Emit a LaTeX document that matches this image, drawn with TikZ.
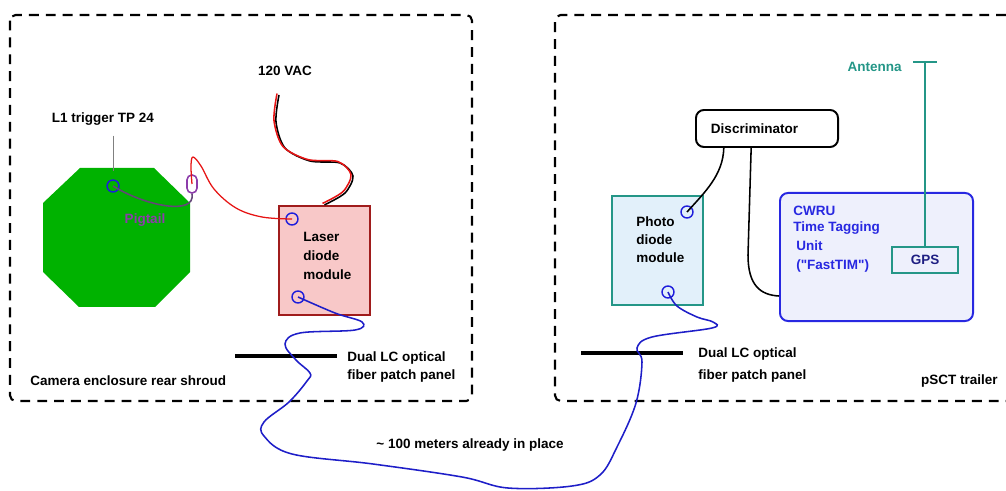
\documentclass[tikz,border=0pt]{standalone}
\usepackage{fontspec}
\setmainfont{Liberation Sans}[Ligatures=TeXOff]
\usetikzlibrary{positioning, calc}

\definecolor{boardgreen}{RGB}{0,178,0}
\definecolor{laserred}{RGB}{160,28,28}
\definecolor{laserpink}{RGB}{248,200,200}
\definecolor{pdteal}{RGB}{36,150,135}
\definecolor{pdblue}{RGB}{226,240,250}
\definecolor{cwrublue}{RGB}{40,40,225}
\definecolor{cwrufill}{RGB}{238,240,252}
\definecolor{gpsnavy}{RGB}{30,30,130}
\definecolor{portblue}{RGB}{30,30,220}
\definecolor{fiberblue}{RGB}{30,30,200}
\definecolor{pigpurple}{RGB}{140,60,170}
\definecolor{pigwire}{RGB}{100,70,120}
\definecolor{wirered}{RGB}{230,20,20}

\begin{document}
\begin{tikzpicture}[
  x=0.025cm, y=-0.025cm,
  every node/.append style = {font=\bfseries\fontsize{9.6}{13.5}\selectfont},
  txt/.style = {inner sep=0pt, align=left},
  enclosure/.style = {line width=1.5pt, dash pattern=on 7pt off 5pt, rounded corners=4pt},
  module/.style = {draw, line width=1.6pt, minimum width=2.275cm, minimum height=2.725cm},
  port/.style = {circle, draw=portblue, line width=1pt, minimum size=0.3cm, inner sep=0pt},
  fiber/.style = {draw=fiberblue, line width=1.1pt},
  wire/.style = {line width=1.1pt},
  panel/.style = {fill=black, minimum width=2.55cm, minimum height=0.1cm, inner sep=0pt},
  roundbox/.style = {draw, rounded corners=0.2cm, line width=1.4pt}
]
  \useasboundingbox (0,0) rectangle (1006,491);

  % Enclosures
  \draw[enclosure] (10,15) rectangle (472,401);
  \draw[enclosure] (1006,15) -- (555,15) -- (555,401) -- (1006,401);

  % Camera board
  \fill[boardgreen] (80,168) -- (154,168) -- (190,203) -- (190,272) -- (155,307)
    -- (79,307) -- (43,272) -- (43,203) -- cycle;
  \node[port] (tp24) at (113,186) {};
  \node[txt] (l1) at (103,119) {L1 trigger TP 24};
  \draw[gray, line width=0.5pt, shorten <=0.25cm, shorten >=0.2cm] (tp24 |- l1.south) -- (tp24);
  \node[txt, text=pigpurple] (pigtext) at (145,220) {Pigtail};

  % Laser diode module
  \node[module, draw=laserred, fill=laserpink] (laser) at (324.5,260.5) {};
  \node[txt, anchor=north west] (lasertext) at (303,232) {Laser\\diode\\module};
  \node[port] (lin) at (292,219) {};
  \node[port] (lout) at (298,297) {};

  % Pigtail
  \node[draw=pigpurple, line width=1.1pt, rounded corners=0.12cm, minimum width=0.25cm,
        minimum height=0.45cm, inner sep=0pt] (clip) at (192,184) {};
  \draw[pigwire, wire] (tp24.center) .. controls (145,206) and (196,216) .. (clip.south);
  \draw[wirered, line width=0.9pt] plot[smooth, tension=0.6] coordinates {(clip.center) (191,166)
    (193,157) (201,166) (214,189) (236,208) (262,217) (lin.center)};

  % Mains cable
  \coordinate (plug) at (279,95);
  \node[txt] (vac) at (285,71) {120 VAC};
  \draw[black, wire] plot[smooth] coordinates {(plug) (276,122) (285,148) (310,161)
    (340,163) (353,176) (345,193) (laser.north)};
  \draw[wirered, wire, transform canvas={shift={(-0.05cm,0.035cm)}}] plot[smooth] coordinates {(plug)
    (276,122) (285,148) (310,161) (340,163) (353,176) (345,193) (laser.north)};

  % Camera patch panel
  \node[panel] (panelL) at (286,356) {};
  \node[txt, anchor=north west] (panelLtext) at (347,351) {Dual LC optical\\[-0.7pt]fiber patch panel};
  \node[txt, anchor=west] (camtext) at (30,381) {Camera enclosure rear shroud};

  % Trailer side
  \node[roundbox, text width=2.8cm, inner xsep=0.375cm, minimum height=0.925cm] (disc)
    at (767,128.5) {Discriminator};
  \node[module, draw=pdteal, fill=pdblue] (pd) at (657.5,250.5) {};
  \node[txt, anchor=north west] (pdtext) at (636,216) {Photo\\[-0.7pt]diode\\[-0.7pt]module};
  \node[port] (pdin) at (687,212) {};
  \node[port] (pdout) at (668,292) {};

  \node[roundbox, draw=cwrublue, fill=cwrufill, minimum width=4.825cm, minimum height=3.2cm]
    (cwru) at (876.5,257) {};
  \node[txt, text=cwrublue, anchor=north west] (cwrutext) at (793,206)
    {CWRU\\[-2.2pt]Time Tagging\\\hspace{0.075cm}Unit\\\hspace{0.075cm}("FastTIM")};

  \coordinate (ant) at (925,62);
  \node[draw=pdteal, fill=cwrufill, line width=1.4pt, minimum width=1.65cm, minimum height=0.65cm,
        text=gpsnavy] (gps) at (925,260) {GPS};
  \draw[pdteal, line width=1.1pt] (ant) -- (gps.north);
  \draw[pdteal, line width=1.1pt] ($(ant)+(-12,0)$) -- ($(ant)+(12,0)$);
  \node[txt, text=pdteal, anchor=east] (anttext) at (902,67) {Antenna};

  \draw[wire] ($(disc.south west)!0.2!(disc.south east)$) .. controls (723,175) and (705,192) .. (pdin.center);
  \draw[wire] ($(disc.south west)!0.39!(disc.south east)$) -- (748,255)
    .. controls (748,285) and (760,295) .. ($(cwru.south west)!0.2!(cwru.north west)$);

  % Trailer patch panel
  \node[panel] (panelR) at (632,353) {};
  \node[txt, anchor=north west] (panelRtext) at (698,347) {Dual LC optical\\[2.1pt]fiber patch panel};
  \node[txt, anchor=east] (trailer) at (998,381) {pSCT trailer};

  % Fiber run
  \draw[fiber] plot[smooth, tension=0.6] coordinates {(lout.center) (335,313) (362,322) (355,330)
    (300,333) (285,344) (296,360) (310,373) (307,381) (289,402) (264,422) (264,436) (292,454)
    (373,464) (462,477) (508,488) (572,486) (600,475) (617,447) (636,403) (642,362) (637,348)
    (652,337) (712,328) (713,322) (697,317) (677,306) (pdout.center)};
  \node[txt] (fibertext) at (470,445) {\textasciitilde{} 100 meters already in place};
\end{tikzpicture}
\end{document}
